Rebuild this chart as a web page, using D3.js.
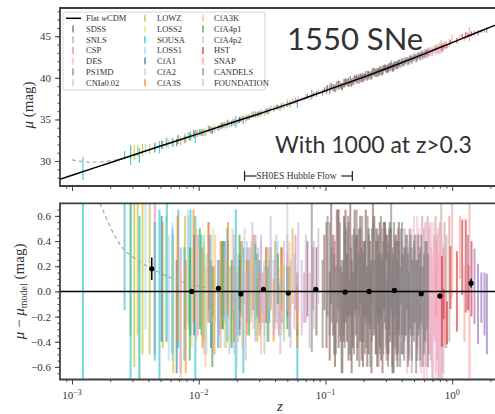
<!DOCTYPE html>
<html>
<head>
<meta charset="utf-8">
<script src="https://cdn.jsdelivr.net/npm/d3@7"></script>
<style>
  body { margin: 0; background: #fff; }
  svg { display: block; }
  text { font-family: "Liberation Serif", serif; fill: #333; }
</style>
</head>
<body>
<svg width="495" height="414"></svg>
<script>
// ---- data: [z, residual (mag), error (mag)] ----
const SDSS = [[0.045,0.05,0.3],[0.06,-0.1,0.25],[0.072,0.1,0.3],[0.085,0.0,0.35],[0.098,0.15,0.3],[0.102,0.05,0.5],[0.108,-0.2,0.35],[0.111,0.3,0.4],[0.115,0.05,0.4],[0.119,-0.1,0.5],[0.123,0.2,0.45],[0.127,0.1,0.55],[0.132,-0.1,0.3],[0.136,-0.25,0.4],[0.14,0.1,0.5],[0.144,0.2,0.45],[0.148,-0.05,0.35],[0.152,0.0,0.55],[0.157,0.25,0.45],[0.161,-0.2,0.45],[0.165,-0.15,0.3],[0.17,0.25,0.4],[0.174,0.05,0.4],[0.178,-0.05,0.5],[0.183,0.15,0.35],[0.188,0.1,0.5],[0.193,-0.1,0.45],[0.198,-0.15,0.45],[0.203,0.1,0.3],[0.208,0.2,0.45],[0.214,-0.2,0.4],[0.219,0.0,0.5],[0.225,0.05,0.35],[0.231,-0.2,0.45],[0.237,0.3,0.4],[0.243,0.15,0.45],[0.25,-0.05,0.45],[0.256,-0.1,0.5],[0.262,0.1,0.35],[0.268,0.05,0.5],[0.275,-0.15,0.4],[0.282,-0.2,0.45],[0.288,0.2,0.35],[0.295,0.15,0.4],[0.3,0.0,0.45],[0.308,-0.05,0.5],[0.315,-0.1,0.4],[0.322,0.1,0.45],[0.33,0.15,0.35],[0.338,-0.15,0.5],[0.345,-0.2,0.45],[0.352,0.0,0.45],[0.36,0.05,0.4],[0.37,-0.1,0.5],[0.38,0.1,0.45],[0.4,-0.1,0.4]];
const SNLS = [[0.25,0.05,0.35],[0.28,0.1,0.4],[0.32,-0.1,0.3],[0.35,-0.15,0.4],[0.38,0.15,0.35],[0.42,0.05,0.45],[0.45,-0.05,0.4],[0.48,-0.2,0.45],[0.5,0.1,0.35],[0.53,0.0,0.45],[0.56,-0.2,0.4],[0.58,0.15,0.45],[0.6,0.05,0.45],[0.62,-0.1,0.5],[0.64,0.2,0.4],[0.66,0.0,0.5],[0.68,-0.1,0.45],[0.7,-0.25,0.45],[0.72,0.05,0.4],[0.74,0.1,0.5],[0.76,-0.05,0.5],[0.78,-0.2,0.5],[0.8,0.1,0.45],[0.82,0.0,0.8],[0.85,-0.15,0.5],[0.87,0.05,0.5],[0.9,0.0,0.45],[0.95,0.1,0.5]];
const CSP = [[0.0045,0.1,0.6],[0.0072,-0.15,0.5],[0.0098,0.05,0.4],[0.012,0.2,0.35],[0.0145,-0.05,0.3],[0.017,0.1,0.3],[0.02,-0.1,0.25],[0.024,0.05,0.3],[0.028,0.2,0.25],[0.032,-0.05,0.2],[0.037,0.1,0.25],[0.043,-0.15,0.2],[0.05,0.05,0.25],[0.058,0.15,0.3],[0.068,-0.05,0.2],[0.08,0.1,0.25]];
const DES = [[0.12,0.1,0.35],[0.18,-0.1,0.3],[0.24,0.05,0.35],[0.3,-0.15,0.4],[0.33,0.05,0.4],[0.35,0.1,0.35],[0.37,-0.1,0.45],[0.4,0.0,0.4],[0.42,0.1,0.4],[0.44,-0.2,0.45],[0.46,-0.05,0.45],[0.48,0.1,0.4],[0.5,0.25,0.35],[0.52,-0.1,0.45],[0.53,0.15,0.45],[0.55,0.0,0.5],[0.57,-0.15,0.5],[0.58,0.15,0.4],[0.6,-0.25,0.45],[0.61,0.1,0.45],[0.62,0.05,0.5],[0.63,-0.3,0.45],[0.65,-0.1,0.4],[0.66,0.05,0.5],[0.68,0.1,0.45],[0.69,-0.15,0.45],[0.7,-0.2,0.5],[0.71,0.1,0.45],[0.72,0.0,0.4],[0.74,-0.25,0.5],[0.75,-0.1,0.55],[0.77,0.0,0.5],[0.78,0.05,0.45],[0.79,-0.3,0.45],[0.8,-0.15,0.5],[0.81,0.05,0.5],[0.83,0.0,0.4],[0.84,-0.2,0.5]];
const PS1MD = [[0.034,0.05,0.3],[0.052,-0.08,0.28],[0.078,0.12,0.6],[0.095,-0.1,0.35],[0.104,0.2,0.4],[0.108,0.1,0.45],[0.112,0.05,0.3],[0.117,-0.1,0.4],[0.121,-0.15,0.35],[0.126,0.25,0.4],[0.13,0.1,0.45],[0.134,-0.2,0.45],[0.138,-0.05,0.3],[0.142,0.05,0.5],[0.146,0.15,0.35],[0.151,0.2,0.4],[0.155,-0.2,0.3],[0.159,-0.1,0.45],[0.163,0.05,0.4],[0.168,0.0,0.5],[0.172,0.1,0.3],[0.176,0.25,0.4],[0.18,-0.1,0.35],[0.185,-0.15,0.45],[0.19,0.2,0.3],[0.195,0.1,0.5],[0.2,0.0,0.4],[0.205,-0.05,0.45],[0.21,-0.15,0.3],[0.215,0.2,0.4],[0.22,0.1,0.35],[0.226,-0.2,0.4],[0.232,0.05,0.45],[0.238,0.1,0.45],[0.244,-0.05,0.3],[0.25,0.0,0.5],[0.256,0.15,0.35],[0.262,-0.15,0.45],[0.268,-0.1,0.4],[0.274,0.2,0.4],[0.28,0.0,0.3],[0.286,-0.05,0.45],[0.292,0.2,0.35],[0.298,0.1,0.4],[0.305,-0.2,0.3],[0.312,-0.1,0.5],[0.318,0.1,0.4],[0.325,0.05,0.45],[0.33,0.3,0.45],[0.336,-0.2,0.4],[0.342,-0.05,0.35],[0.348,0.15,0.4],[0.355,0.1,0.3],[0.362,-0.05,0.45],[0.368,-0.15,0.4],[0.374,0.0,0.5],[0.38,0.05,0.35],[0.388,-0.2,0.4],[0.395,0.2,0.3],[0.402,0.1,0.45],[0.41,-0.1,0.4],[0.418,-0.1,0.45],[0.425,0.0,0.35],[0.432,0.05,0.4],[0.44,0.15,0.3],[0.448,-0.15,0.45],[0.455,-0.2,0.35],[0.462,0.1,0.4],[0.47,0.05,0.4],[0.48,-0.1,0.45],[0.49,-0.05,0.3],[0.5,0.0,0.4],[0.51,0.1,0.35],[0.52,-0.2,0.45],[0.53,-0.15,0.4],[0.54,0.05,0.4],[0.55,0.0,0.3],[0.56,-0.1,0.45],[0.57,0.1,0.35],[0.585,-0.2,0.4],[0.6,-0.1,0.4],[0.615,0.0,0.4],[0.63,0.05,0.35],[0.645,-0.15,0.45]];
const CNIa002 = [[0.011,0.1,0.3],[0.015,-0.1,0.35],[0.019,0.05,0.3],[0.023,0.2,0.3],[0.027,-0.05,0.25],[0.031,0.1,0.3],[0.036,-0.15,0.25],[0.042,0.0,0.3],[0.05,0.3,0.4],[0.06,-0.1,0.25]];
const LOWZ = [[0.0029,0.5,0.85],[0.0031,0.3,0.9],[0.0033,0.35,0.7],[0.0036,0.25,0.75],[0.0041,0.1,0.6],[0.0052,0.05,0.5],[0.0063,-0.1,0.55],[0.0078,0.15,0.45],[0.011,-0.05,0.35],[0.015,0.1,0.3],[0.021,0.0,0.3],[0.029,-0.15,0.25],[0.04,0.1,0.3],[0.055,0.2,0.3]];
const LOSS2 = [[0.0034,-0.1,0.7],[0.0055,0.1,0.5],[0.0088,-0.05,0.4],[0.013,0.15,0.35],[0.018,-0.1,0.3],[0.025,0.05,0.3],[0.034,0.1,0.25],[0.045,-0.05,0.3]];
const SOUSA = [[0.00122,0.4,1.4],[0.0026,0.35,0.5],[0.0029,0.1,1.2],[0.0034,-0.3,0.9],[0.0045,0.0,0.55],[0.0049,-0.1,0.75],[0.0056,0.2,0.6],[0.0062,0.0,0.5],[0.0069,0.1,0.55],[0.0077,-0.1,0.45],[0.0086,0.15,0.5],[0.0094,-0.2,0.8],[0.0105,0.05,0.4],[0.0122,0.1,0.35],[0.0142,-0.1,0.35],[0.0168,0.05,0.45],[0.0196,-0.05,0.7],[0.0225,-0.15,0.5],[0.028,0.08,0.3],[0.036,0.0,0.25],[0.06,-0.6,0.3]];
const LOSS1 = [[0.0038,0.3,0.6],[0.0058,-0.05,0.5],[0.0082,0.2,0.45],[0.0115,-0.1,0.4],[0.0155,0.05,0.35],[0.02,-0.2,0.4],[0.026,0.1,0.3],[0.033,-0.05,0.3],[0.042,0.15,0.25]];
const CfA1 = [[0.0051,0.1,0.5],[0.0067,-0.2,0.45],[0.0092,0.05,0.4],[0.0125,-0.1,0.35],[0.016,0.1,0.3],[0.021,-0.05,0.3],[0.03,0.0,0.25]];
const CfA2 = [[0.0062,0.0,0.55],[0.0083,0.15,0.45],[0.011,-0.1,0.4],[0.0148,0.05,0.35],[0.019,-0.15,0.35],[0.024,0.1,0.3],[0.031,-0.05,0.25],[0.04,0.0,0.3]];
const CfA3S = [[0.0068,0.1,0.5],[0.0079,-0.2,0.45],[0.0091,0.2,0.45],[0.0107,-0.05,0.4],[0.0119,0.15,0.4],[0.0133,-0.15,0.35],[0.0151,0.05,0.35],[0.017,0.2,0.35],[0.019,-0.1,0.3],[0.0215,0.1,0.3],[0.024,-0.05,0.3],[0.027,0.15,0.3],[0.0305,-0.1,0.25],[0.034,0.05,0.3],[0.039,-0.15,0.25],[0.045,0.1,0.25],[0.052,0.0,0.2],[0.06,-0.2,0.25]];
const CfA3K = [[0.0072,-0.3,0.45],[0.0096,0.05,0.45],[0.0113,-0.2,0.4],[0.0135,0.1,0.35],[0.016,-0.1,0.35],[0.0185,0.15,0.35],[0.022,-0.15,0.3],[0.026,0.05,0.3],[0.031,-0.2,0.3],[0.037,0.1,0.25],[0.044,-0.05,0.25],[0.052,0.1,0.3]];
const CfA4p1 = [[0.0085,-0.1,0.45],[0.0102,0.1,0.4],[0.0128,-0.2,0.4],[0.0155,0.05,0.35],[0.0182,-0.1,0.35],[0.021,0.15,0.3],[0.025,-0.05,0.3],[0.029,0.05,0.25],[0.035,-0.1,0.3],[0.042,0.1,0.2],[0.05,-0.05,0.25]];
const CfA4p2 = [[0.011,0.05,0.4],[0.0165,-0.1,0.35],[0.022,0.1,0.3],[0.028,-0.05,0.3],[0.036,0.1,0.25],[0.047,-0.1,0.3]];
const HST = [[0.83,-0.08,0.36],[0.86,-0.1,0.12],[0.91,-0.25,0.17],[0.97,0.11,0.25],[1.09,0.0,0.32],[1.2,0.27,0.3],[1.28,0.2,0.37],[1.35,0.03,0.18],[1.42,0.1,0.3]];
const SNAP = [[0.75,0.1,0.3],[0.88,-0.05,0.35],[1.0,0.45,0.5],[1.15,0.35,0.25],[1.25,-0.1,0.3],[1.37,0.1,0.9]];
const CANDELS = [[1.33,0.15,0.3],[1.5,0.04,0.3],[1.6,-0.1,0.32],[1.7,-0.05,0.2],[1.8,-0.1,0.25],[1.88,-0.18,0.32]];
const FOUNDATION = [[0.0125,0.1,0.35],[0.0145,-0.1,0.35],[0.016,0.05,0.3],[0.0175,-0.15,0.35],[0.019,0.15,0.3],[0.0205,-0.05,0.35],[0.022,0.1,0.3],[0.0235,-0.2,0.35],[0.025,0.05,0.3],[0.0265,0.2,0.35],[0.028,-0.1,0.3],[0.0295,0.0,0.35],[0.031,0.15,0.3],[0.033,-0.15,0.35],[0.035,0.05,0.3],[0.037,0.25,0.35],[0.039,-0.05,0.3],[0.041,0.1,0.35],[0.044,-0.2,0.3],[0.047,0.05,0.35],[0.05,0.15,0.3],[0.053,-0.1,0.35],[0.057,0.0,0.3],[0.061,0.2,0.35],[0.065,-0.05,0.3],[0.07,0.1,0.35],[0.075,-0.15,0.3],[0.081,0.05,0.35],[0.088,0.2,0.3]];

// survey order and colours (legend order)
const surveyNames = ["SDSS","SNLS","CSP","DES","PS1MD","CNIa0.02","LOWZ","LOSS2","SOUSA","LOSS1","CfA1","CfA2","CfA3S","CfA3K","CfA4p1","CfA4p2","HST","SNAP","CANDELS","FOUNDATION"];
const surveyData = [SDSS,SNLS,CSP,DES,PS1MD,CNIa002,LOWZ,LOSS2,SOUSA,LOSS1,CfA1,CfA2,CfA3S,CfA3K,CfA4p1,CfA4p2,HST,SNAP,CANDELS,FOUNDATION];
const surveyColors = ["#8c564b","#c49c94","#e377c2","#f7b6d2","#7f7f7f","#c7c7c7","#bcbd22","#dbdb8d","#17becf","#9edae5","#1f77b4","#aec7e8","#ff7f0e","#ffbb78","#2ca02c","#98df8a","#d62728","#ff9896","#9467bd","#c5b0d5"];

// flat wCDM model curve
const modelZ  = [0.0008,0.001,0.002,0.005,0.01,0.02,0.05,0.1,0.2,0.3,0.5,0.7,1.0,1.5,2.0,2.5];
const modelMu = [27.81,28.30,29.80,31.80,33.30,34.81,36.81,38.46,40.09,41.09,42.40,43.29,44.24,45.34,46.10,46.68];

// peculiar-velocity dashed curves
const pvZ  = [0.001,0.0012,0.0014,0.0017,0.002,0.0024,0.0028,0.0032,0.0036];
const pvMu = [30.15,29.95,29.88,29.9,30.02,30.25,30.5,30.78,31.02];
const pvResZ = [0.00166,0.0024,0.0034,0.0049,0.0071,0.0102,0.0147,0.02,0.03];
const pvRes  = [0.7,0.37,0.24,0.15,0.08,0.037,0.013,0.004,0.0];

// binned residuals
const binZ = [0.00426,0.0088,0.0143,0.0215,0.0324,0.0509,0.084,0.143,0.221,0.35,0.57,0.80,1.41];
const binR = [0.18,0.0,0.025,-0.02,0.017,-0.013,0.017,-0.005,0.0,0.008,-0.018,-0.037,0.065];
const binE = [0.09,0.01,0.012,0.01,0.008,0.008,0.008,0.008,0.007,0.008,0.01,0.02,0.035];

const muTicks = [30, 35, 40, 45];
const resTicks = [-0.6, -0.4, -0.2, 0.0, 0.2, 0.4, 0.6];
const zTicks = [0.001, 0.01, 0.1, 1];
const zTickLabels = ["−3", "−2", "−1", "0"];
const shoesRange = [0.023, 0.163];

// ---- layout ----
let svg = d3.select("svg");
let left = 60, right = 498;
let top1 = 8, bot1 = 186, top2 = 203.3, bot2 = 379.5;
let axisColor = "#404040";

let x = d3.scaleLog().domain([0.000804, 2.3]).range([left, right]);
let y1 = d3.scaleLinear().domain([27, 48.4]).range([bot1, top1]);
let y2 = d3.scaleLinear().domain([-0.7, 0.7]).range([bot2, top2]);

// model mu at any z, interpolated in log z from the table
let logModel = d3.scaleLinear().domain(modelZ.map(Math.log10)).range(modelMu);
let muModel = z => logModel(Math.log10(z));

let defs = svg.append("defs");
defs.append("clipPath").attr("id", "clip1").append("rect")
    .attr("x", left).attr("y", top1).attr("width", right - left).attr("height", bot1 - top1);
defs.append("clipPath").attr("id", "clip2").append("rect")
    .attr("x", left).attr("y", top2).attr("width", right - left).attr("height", bot2 - top2);

let g1 = svg.append("g").attr("clip-path", "url(#clip1)");
let g2 = svg.append("g").attr("clip-path", "url(#clip2)");

// error bars for every survey, both panels
surveyData.forEach(function (pts, i) {
    g1.append("g").selectAll("line")
        .data(pts).enter().append("line")
        .attr("x1", d => x(d[0])).attr("x2", d => x(d[0]))
        .attr("y1", d => y1(muModel(d[0]) + d[1] - d[2]))
        .attr("y2", d => y1(muModel(d[0]) + d[1] + d[2]))
        .attr("stroke", surveyColors[i])
        .attr("stroke-width", 1.2)
        .attr("opacity", 0.75);
    g2.append("g").selectAll("line")
        .data(pts).enter().append("line")
        .attr("x1", d => x(d[0])).attr("x2", d => x(d[0]))
        .attr("y1", d => y2(d[1] - d[2]))
        .attr("y2", d => y2(d[1] + d[2]))
        .attr("stroke", surveyColors[i])
        .attr("stroke-width", 2)
        .attr("opacity", 0.6);
});

// model line & dashed curves
let line1 = d3.line().x(d => x(d[0])).y(d => y1(d[1])).curve(d3.curveMonotoneX);
g1.append("path")
    .attr("d", line1(pvZ.map((z, i) => [z, pvMu[i]])))
    .attr("fill", "none").attr("stroke", "#aaa").attr("stroke-width", 1.2)
    .attr("stroke-dasharray", "4,3");
g1.append("path")
    .attr("d", line1(modelZ.map((z, i) => [z, modelMu[i]])))
    .attr("fill", "none").attr("stroke", "black").attr("stroke-width", 1.5);

let line2 = d3.line().x(d => x(d[0])).y(d => y2(d[1])).curve(d3.curveMonotoneX);
g2.append("path")
    .attr("d", line2(pvResZ.map((z, i) => [z, pvRes[i]])))
    .attr("fill", "none").attr("stroke", "#aaa").attr("stroke-width", 1.2)
    .attr("stroke-dasharray", "4,3");
g2.append("line")
    .attr("x1", left).attr("x2", right)
    .attr("y1", y2(0)).attr("y2", y2(0))
    .attr("stroke", "black").attr("stroke-width", 1.5);

// binned points
let bins = binZ.map((z, i) => ({ z: z, r: binR[i], e: binE[i] }));
g2.append("g").selectAll("line").data(bins).enter().append("line")
    .attr("x1", d => x(d.z)).attr("x2", d => x(d.z))
    .attr("y1", d => y2(d.r - d.e)).attr("y2", d => y2(d.r + d.e))
    .attr("stroke", "black").attr("stroke-width", 1.5);
g2.append("g").selectAll("circle").data(bins).enter().append("circle")
    .attr("cx", d => x(d.z)).attr("cy", d => y2(d.r)).attr("r", 2.6)
    .attr("fill", "black");

// ---- axes ----
function styleAxis(sel) {
    sel.select(".domain").remove();
    sel.selectAll(".tick line").attr("stroke", axisColor).attr("stroke-width", 1);
    sel.selectAll(".tick text").style("font-size", "11px").attr("fill", "#333");
}

let zMinor = [];
[0.0001, 0.001, 0.01, 0.1, 1].forEach(function (dec) {
    for (let k = 2; k <= 9; k++) {
        let v = dec * k;
        if (v >= 0.000804 && v <= 2.3) zMinor.push(v);
    }
});

[bot1, bot2].forEach(function (yy, idx) {
    let ax = svg.append("g").attr("transform", "translate(0," + yy + ")");
    ax.call(d3.axisBottom(x).tickValues(zTicks).tickSize(5).tickPadding(5)
        .tickFormat(() => ""));
    ax.append("g").call(d3.axisBottom(x).tickValues(zMinor).tickSize(2.5).tickFormat(() => ""));
    ax.selectAll(".domain").remove();
    ax.selectAll(".tick line").attr("stroke", axisColor).attr("stroke-width", 1);
    if (idx === 1) {
        ax.selectAll(".tick text").remove();
        zTicks.forEach(function (z, i) {
            let t = ax.append("text")
                .attr("x", x(z)).attr("y", 19)
                .attr("text-anchor", "middle")
                .style("font-size", "11px");
            t.append("tspan").text("10");
            t.append("tspan").attr("dy", -4).style("font-size", "8px").text(zTickLabels[i]);
        });
    }
});

// y axes
let yAx1 = svg.append("g").attr("transform", "translate(" + left + ",0)");
yAx1.call(d3.axisLeft(y1).tickValues(muTicks).tickSize(5).tickPadding(4));
yAx1.append("g").call(d3.axisLeft(y1).tickValues(d3.range(28, 49)).tickSize(2.5).tickFormat(() => ""));
styleAxis(yAx1);
yAx1.selectAll("g g .domain").remove();

let yAx2 = svg.append("g").attr("transform", "translate(" + left + ",0)");
yAx2.call(d3.axisLeft(y2).tickValues(resTicks).tickSize(5).tickPadding(4)
    .tickFormat(d => (d < 0 ? "−" : "") + Math.abs(d).toFixed(1)));
yAx2.append("g").call(d3.axisLeft(y2).tickValues(d3.range(-0.65, 0.7, 0.05)).tickSize(2.5).tickFormat(() => ""));
styleAxis(yAx2);
yAx2.selectAll("g g .domain").remove();

// spines
[[top1, bot1], [top2, bot2]].forEach(function (p) {
    svg.append("path")
        .attr("d", "M" + right + "," + p[0] + "H" + left + "V" + p[1] + "H" + right)
        .attr("fill", "none").attr("stroke", axisColor).attr("stroke-width", 1.8);
});

// axis labels
let yl1 = svg.append("text")
    .attr("transform", "translate(33," + ((top1 + bot1) / 2 + 8) + ") rotate(-90)")
    .attr("text-anchor", "middle").style("font-size", "15px");
yl1.append("tspan").style("font-style", "italic").text("μ");
yl1.append("tspan").text(" (mag)");

let yl2 = svg.append("text")
    .attr("transform", "translate(24," + ((top2 + bot2) / 2) + ") rotate(-90)")
    .attr("text-anchor", "middle").style("font-size", "15px");
yl2.append("tspan").style("font-style", "italic").text("μ");
yl2.append("tspan").text(" − ");
yl2.append("tspan").style("font-style", "italic").text("μ");
yl2.append("tspan").attr("dy", 3).style("font-size", "10px").text("model");
yl2.append("tspan").attr("dy", -3).text(" (mag)");

svg.append("text")
    .attr("x", 280).attr("y", 411)
    .attr("text-anchor", "middle")
    .style("font-size", "15px").style("font-style", "italic")
    .text("z");

// SH0ES Hubble flow bracket
let sx0 = x(shoesRange[0]), sx1 = x(shoesRange[1]), sy = 176;
let sh = svg.append("g").attr("stroke", "#222").attr("stroke-width", 1.2);
sh.append("line").attr("x1", sx0).attr("x2", sx0).attr("y1", sy - 5).attr("y2", sy + 5);
sh.append("line").attr("x1", sx1).attr("x2", sx1).attr("y1", sy - 5).attr("y2", sy + 5);
sh.append("line").attr("x1", sx0).attr("x2", sx0 + 12).attr("y1", sy).attr("y2", sy);
sh.append("line").attr("x1", sx1 - 11).attr("x2", sx1).attr("y1", sy).attr("y2", sy);
svg.append("text")
    .attr("x", (sx0 + sx1) / 2 - 2).attr("y", sy + 3)
    .attr("text-anchor", "middle").style("font-size", "9.5px")
    .text("SH0ES Hubble Flow");

// big annotations
svg.append("text")
    .attr("x", 287).attr("y", 50)
    .style("font-family", "Lato, sans-serif").style("font-size", "31px").attr("fill", "#111")
    .text("1550 SNe");
svg.append("text")
    .attr("x", 275).attr("y", 153)
    .style("font-family", "Lato, sans-serif").style("font-size", "23px").attr("fill", "#111")
    .text("With 1000 at z>0.3");

// ---- legend ----
let legend = svg.append("g");
legend.append("rect")
    .attr("x", 63).attr("y", 12).attr("width", 202).attr("height", 78)
    .attr("rx", 2).attr("fill", "white").attr("fill-opacity", 0.85)
    .attr("stroke", "#ccc").attr("stroke-width", 0.8);

let legendItems = [{ name: "model", color: "black" }]
    .concat(surveyNames.map((n, i) => ({ name: n, color: surveyColors[i] })));
let colX = [73, 145, 203], textX = [86, 157, 214];
legendItems.forEach(function (d, i) {
    let col = Math.floor(i / 7), row = i % 7;
    let yy = 18.3 + row * 10.7;
    if (d.name === "model") {
        legend.append("line").attr("x1", 66).attr("x2", 81).attr("y1", yy).attr("y2", yy)
            .attr("stroke", "black").attr("stroke-width", 1.5);
        let t = legend.append("text").attr("x", textX[col]).attr("y", yy + 3).style("font-size", "8.5px");
        t.append("tspan").text("Flat ");
        t.append("tspan").style("font-style", "italic").text("w");
        t.append("tspan").text("CDM");
    } else {
        legend.append("line").attr("x1", colX[col]).attr("x2", colX[col])
            .attr("y1", yy - 3.5).attr("y2", yy + 3.5)
            .attr("stroke", d.color).attr("stroke-width", 1.6).attr("opacity", 0.75);
        legend.append("text").attr("x", textX[col]).attr("y", yy + 3)
            .style("font-size", "8.5px").text(d.name);
    }
});
</script>
</body>
</html>
